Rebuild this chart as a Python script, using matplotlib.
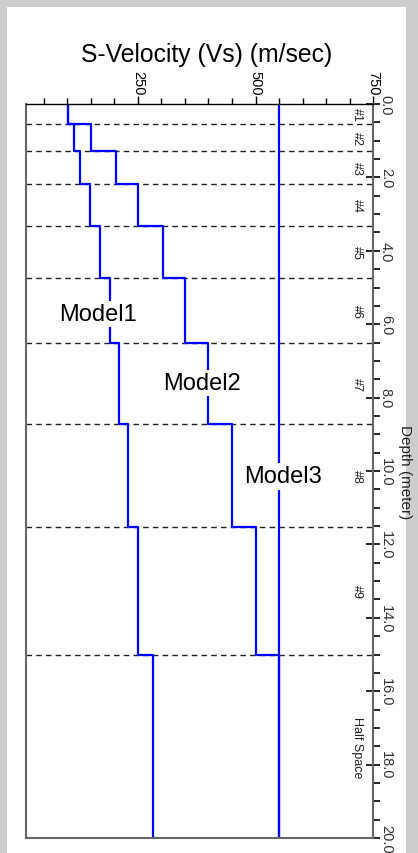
import matplotlib
matplotlib.use("Agg")
import matplotlib.pyplot as plt
from matplotlib.patches import Rectangle
import matplotlib.transforms as mtransforms

plt.rcParams['font.family'] = ['Liberation Sans', 'DejaVu Sans']

# layer boundaries (m) and S-wave velocities (m/s) per layer, last one = half space
depth_bounds = [0.0, 0.55, 1.28, 2.19, 3.32, 4.75, 6.52, 8.73, 11.52, 15.0, 20.0]
layer_names = ['#1', '#2', '#3', '#4', '#5', '#6', '#7', '#8', '#9', 'Half Space']
vs_model1 = [102, 115, 128, 148, 169, 190, 210, 230, 251, 283]
vs_model2 = [102, 150, 203, 250, 303, 351, 400, 449, 500, 550]
vs_model3 = [549, 549, 549, 549, 549, 549, 549, 549, 549, 549]

model_names = ['Model1', 'Model2', 'Model3']
label_vs = [166, 387, 558]
label_depth = [5.88, 7.77, 10.31]

vel_ticks = [250, 500, 750]
depth_ticks = [0, 2, 4, 6, 8, 10, 12, 14, 16, 18, 20]


def profile(bounds, vs):
    xs, ys = [], []
    for i, v in enumerate(vs):
        xs += [v, v]
        ys += [bounds[i], bounds[i + 1]]
    return xs, ys


W, H = 418, 854
fig = plt.figure(figsize=(W / 100, H / 100), dpi=100, facecolor='#cdcdcd')
fig.patches.append(Rectangle((7 / W, 0), 399 / W, 846 / H, transform=fig.transFigure,
                             facecolor='white', edgecolor='none', zorder=-5))

ax = fig.add_axes([25.7 / W, 15 / H, 347.6 / W, 734 / H])
ax.set_facecolor('white')

# layer boundaries
for d in depth_bounds[1:-1]:
    ax.axhline(d, color='#222222', lw=1, ls=(0, (4, 3)), zorder=1)

for vs in [vs_model1, vs_model2, vs_model3]:
    xs, ys = profile(depth_bounds, vs)
    ax.plot(xs, ys, color='#0000ff', lw=1.6, zorder=2)

for name, v, d in zip(model_names, label_vs, label_depth):
    ax.text(v, d, name, fontsize=17, ha='center', va='baseline', zorder=3,
            bbox=dict(facecolor='white', edgecolor='none', pad=1.5))

# layer names along the right side
trans = mtransforms.blended_transform_factory(ax.transAxes, ax.transData)
for i, name in enumerate(layer_names):
    mid = (depth_bounds[i] + depth_bounds[i + 1]) / 2
    ax.text(0.9535, mid, name, transform=trans, rotation=270, fontsize=9,
            ha='center', va='center', color='#222222')

ax.set_xlim(12, 750)
ax.set_ylim(20, 0)

ax.xaxis.tick_top()
ax.set_xticks(vel_ticks)
ax.set_xticklabels([str(t) for t in vel_ticks], rotation=270, fontsize=10.5,
                   ha='center', va='bottom')
ax.set_xticks([v for v in range(50, 750, 50) if v not in vel_ticks], minor=True)
ax.tick_params(axis='x', which='major', length=6, width=1, pad=0.5)
ax.tick_params(axis='x', which='minor', length=4, width=1)

ax.yaxis.tick_right()
ax.set_yticks(depth_ticks)
ax.set_yticklabels([f'{t:.1f}' for t in depth_ticks], rotation=270, fontsize=10.5,
                   ha='left', va='center', color='#333333')
ax.set_yticks([t + 0.5 for t in range(0, 20)] + [t for t in range(1, 20, 2)], minor=True)
ax.tick_params(axis='y', which='major', direction='inout', length=10, width=1.2, pad=-1)
ax.tick_params(axis='y', which='minor', direction='out', length=5, width=1.2)
ax.yaxis.set_label_position('right')
ax.set_ylabel('Depth (meter)', rotation=270, fontsize=11, color='#222222',
              va='center', ha='center')
ax.yaxis.set_label_coords(1.09, 0.5)

ax.spines['top'].set_color('black')
ax.spines['top'].set_linewidth(1)
for s in ['left', 'bottom', 'right']:
    ax.spines[s].set_color('#666666')
    ax.spines[s].set_linewidth(1.5)

fig.text(206.5 / W, 1 - 62 / H, 'S-Velocity (Vs) (m/sec)', fontsize=17.8,
         ha='center', va='baseline')

fig.savefig('out.png', dpi=100, facecolor=fig.get_facecolor())
